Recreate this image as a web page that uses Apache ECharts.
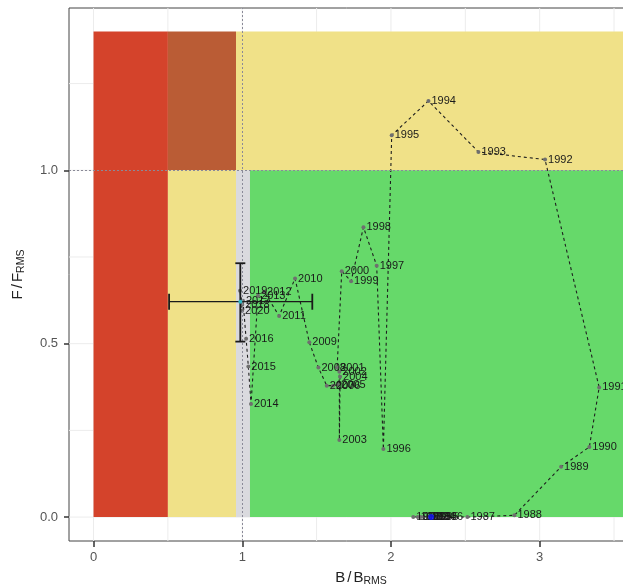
<!DOCTYPE html>
<html>
<head>
<meta charset="utf-8">
<script src="https://cdn.jsdelivr.net/npm/echarts@6/dist/echarts.min.js"></script>
<style>html,body{margin:0;padding:0;background:#fff;}#c{width:623px;height:586px;}</style>
</head>
<body>
<div id="c"></div>
<script>
// ---- data ----
var years = [1980,1981,1982,1983,1984,1985,1986,1987,1988,1989,1990,1991,1992,1993,1994,1995,1996,1997,1998,1999,2000,2001,2002,2003,2004,2005,2006,2007,2008,2009,2010,2011,2012,2013,2014,2015,2016,2017,2018,2019,2020];
var bRatio = [2.15,2.18,2.20,2.22,2.25,2.27,2.30,2.514,2.83,3.144,3.334,3.40,3.036,2.588,2.252,2.005,1.949,1.904,1.815,1.732,1.669,1.638,1.653,1.653,1.658,1.644,1.610,1.568,1.512,1.451,1.355,1.248,1.147,1.106,1.059,1.041,1.026,1.005,1.000,0.985,0.999];
var fRatio = [0,0,0,0,0,0,0,0,0.005,0.145,0.202,0.374,1.031,1.053,1.200,1.101,0.196,0.725,0.836,0.680,0.709,0.431,0.419,0.222,0.405,0.382,0.379,0.379,0.431,0.504,0.688,0.580,0.650,0.638,0.326,0.434,0.514,0.624,0.612,0.653,0.595];
// error bar: [B mid, F mid, B low, B high, F low, F high]
var errBar = [0.987, 0.621, 0.508, 1.471, 0.506, 0.732];
var bluePoint = [2.27, 0];
// zones: [B from, B to, F from, F to]
var zoneRed = [0, 0.5, 0, 1.4];
var zoneBrown = [0.5, 0.958, 1.0, 1.4];
var zoneYellowLow = [0.5, 0.958, 0, 1.0];
var zoneYellowTop = [0.958, 3.762, 1.0, 1.4];
var zoneGrey = [0.958, 1.052, 0, 1.0];
var zoneGreen = [1.052, 3.762, 0, 1.0];
var xTicks = [0, 1, 2, 3];
var yTicks = [0, 0.5, 1.0];
var xGrid = [0, 0.5, 1, 1.5, 2, 2.5, 3, 3.5];
var yGrid = [0, 0.25, 0.5, 0.75, 1.0, 1.25];
var refB = 1, refF = 1;

// ---- build ----
var zones = [zoneRed, zoneBrown, zoneYellowLow, zoneYellowTop, zoneGrey, zoneGreen];
var zoneColors = ['#d4432b', '#ba5c35', '#f0e188', '#f0e188', '#dadade', '#66d96a'];
var pathData = years.map(function (y, i) { return [bRatio[i], fRatio[i], y]; });
var X_MIN = -0.165, X_MAX = 3.762, Y_MIN = -0.069, Y_MAX = 1.468;

var chart = echarts.init(document.getElementById('c'));
var textFont = 'Liberation Sans, Arial, sans-serif';
var titleRich = {
  a: { fontSize: 15, color: '#222', fontFamily: textFont },
  s: { fontSize: 15, color: '#222', fontFamily: textFont, padding: [0, 2, 0, 2] },
  b: { fontSize: 10.5, color: '#222', verticalAlign: 'bottom', padding: [7, 0, 0, 0], fontFamily: textFont }
};
chart.setOption({
  animation: false,
  backgroundColor: '#fff',
  textStyle: { fontFamily: textFont },
  grid: { left: 69, top: 8, width: 584, height: 533, outerBoundsMode: 'none', containLabel: false, show: true, borderColor: '#444', borderWidth: 1, backgroundColor: '#fff' },
  xAxis: {
    type: 'value', min: X_MIN, max: X_MAX, position: 'bottom',
    axisLine: { show: false, onZero: false },
    splitLine: { show: false },
    axisTick: { show: true, length: 6, lineStyle: { color: '#333', width: 1.5 }, customValues: xTicks },
    axisLabel: { color: '#555', fontSize: 13, margin: 10, customValues: xTicks, formatter: function (v) { return String(v); } },
    name: '{a|B}{s|/}{a|B}{b|RMS}', nameLocation: 'middle', nameGap: 28,
    nameTextStyle: { rich: titleRich }
  },
  yAxis: {
    type: 'value', min: Y_MIN, max: Y_MAX, position: 'left',
    axisLine: { show: false, onZero: false },
    splitLine: { show: false },
    axisTick: { show: true, length: 5, lineStyle: { color: '#333', width: 1.5 }, customValues: yTicks },
    axisLabel: { color: '#555', fontSize: 13, margin: 11, customValues: yTicks, formatter: function (v) { return v.toFixed(1); } },
    name: '{a|F}{s|/}{a|F}{b|RMS}', nameLocation: 'middle', nameGap: 42, nameRotate: 90,
    nameTextStyle: { rich: titleRich }
  },
  series: [
    {
      type: 'custom', silent: true, z: 0, clip: true,
      data: xGrid.map(function (v) { return [0, v]; }).concat(yGrid.map(function (v) { return [1, v]; })),
      renderItem: function (params, api) {
        var isY = api.value(0) === 1, v = api.value(1);
        var p1 = isY ? api.coord([X_MIN, v]) : api.coord([v, Y_MIN]);
        var p2 = isY ? api.coord([X_MAX, v]) : api.coord([v, Y_MAX]);
        return { type: 'line', shape: { x1: p1[0], y1: p1[1], x2: p2[0], y2: p2[1] }, style: { stroke: '#ececec', lineWidth: 1 } };
      }
    },
    {
      type: 'custom', silent: true, z: 1, clip: true,
      data: zones.map(function (z, i) { return [z[0], z[1], z[2], z[3], i]; }),
      renderItem: function (params, api) {
        var a = api.coord([api.value(0), api.value(3)]);
        var b = api.coord([api.value(1), api.value(2)]);
        return { type: 'rect', shape: { x: a[0], y: a[1], width: b[0] - a[0], height: b[1] - a[1] }, style: { fill: zoneColors[api.value(4)] } };
      }
    },
    {
      type: 'line', data: [], silent: true, z: 2,
      markLine: {
        silent: true, symbol: 'none', label: { show: false },
        lineStyle: { color: '#8a8a98', type: [2, 2], width: 1 },
        data: [{ xAxis: refB }, { yAxis: refF }]
      }
    },
    {
      type: 'line', data: pathData, z: 3,
      lineStyle: { color: '#1e1e1e', width: 1.1, type: [3, 3] },
      symbol: 'circle', symbolSize: 4,
      itemStyle: { color: '#6f6f6f' },
      label: { show: true, position: 'right', distance: 1, fontSize: 11, color: '#1a1a1a', fontFamily: textFont,
        formatter: function (p) { return String(p.data[2]); } }
    },
    {
      type: 'scatter', data: [bluePoint], z: 4, symbolSize: 6, itemStyle: { color: '#1414ff' }
    },
    {
      type: 'custom', z: 5, data: [errBar],
      renderItem: function (params, api) {
        var c = api.coord([api.value(0), api.value(1)]);
        var xl = api.coord([api.value(2), api.value(1)]);
        var xh = api.coord([api.value(3), api.value(1)]);
        var yl = api.coord([api.value(0), api.value(4)]);
        var yh = api.coord([api.value(0), api.value(5)]);
        var st = { stroke: '#1a1a1a', lineWidth: 1.3 };
        var stV = { stroke: '#1a1a1a', lineWidth: 1.8 };
        var cap = 8, capV = 5;
        return { type: 'group', children: [
          { type: 'line', shape: { x1: xl[0], y1: c[1], x2: xh[0], y2: c[1] }, style: st },
          { type: 'line', shape: { x1: xl[0], y1: c[1] - cap, x2: xl[0], y2: c[1] + cap }, style: stV },
          { type: 'line', shape: { x1: xh[0], y1: c[1] - cap, x2: xh[0], y2: c[1] + cap }, style: stV },
          { type: 'line', shape: { x1: c[0], y1: yl[1], x2: c[0], y2: yh[1] }, style: stV },
          { type: 'line', shape: { x1: c[0] - capV, y1: yl[1], x2: c[0] + capV, y2: yl[1] }, style: stV },
          { type: 'line', shape: { x1: c[0] - capV, y1: yh[1], x2: c[0] + capV, y2: yh[1] }, style: stV },
          { type: 'circle', shape: { cx: c[0], cy: c[1], r: 2 }, style: { fill: '#2fb8c6' } }
        ] };
      }
    }
  ]
});
</script>
</body>
</html>
